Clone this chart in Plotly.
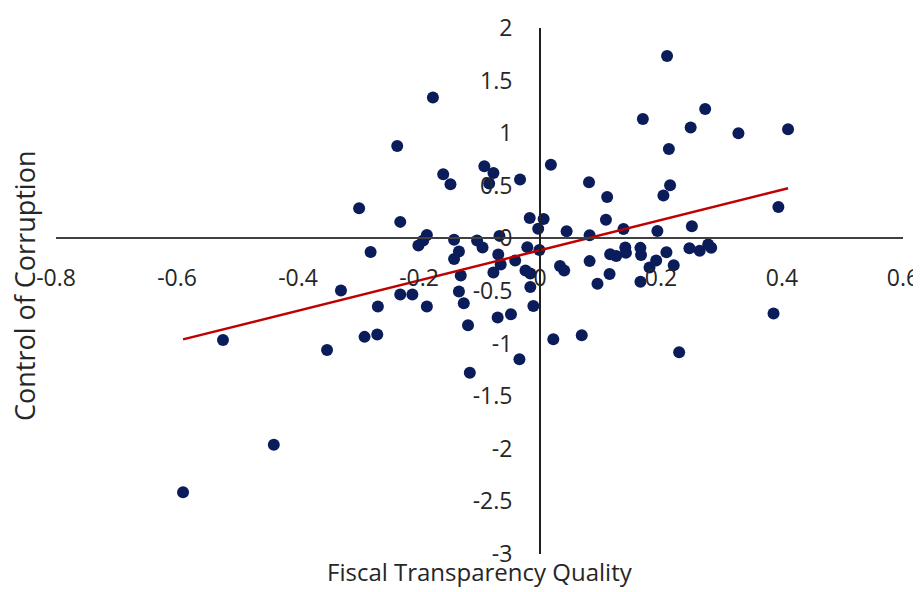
import plotly.graph_objects as go

# Fiscal Transparency Quality (x) vs Control of Corruption (y)
fiscal_transparency = [
    -0.177, -0.236, -0.160, -0.148, -0.092, -0.077, -0.084, -0.033, 0.018, 0.081,
    -0.299, -0.231, -0.017, 0.006, -0.003, 0.044, 0.082, -0.280, -0.187, -0.193,
    -0.201, -0.142, -0.134, -0.142, -0.104, -0.095, -0.067, -0.069, -0.065, -0.041,
    -0.021, -0.001, -0.024, -0.016, 0.033, 0.040, 0.082, 0.095, -0.131, -0.077,
    -0.016, -0.329, -0.231, -0.211, -0.134, -0.268, -0.187, -0.126, -0.011, -0.070,
    -0.048, -0.119, -0.290, -0.269, -0.352, -0.034, -0.116, 0.022, 0.069, -0.524,
    -0.440, -0.590, 0.386, 0.230, 0.210, 0.273, 0.170, 0.249, 0.328, 0.410,
    0.213, 0.215, 0.204, 0.394, 0.111, 0.109, 0.138, 0.194, 0.251, 0.247,
    0.264, 0.278, 0.283, 0.209, 0.116, 0.126, 0.141, 0.142, 0.166, 0.167,
    0.192, 0.181, 0.221, 0.115, 0.166,
]
control_of_corruption = [
    1.340, 0.879, 0.610, 0.514, 0.686, 0.622, 0.521, 0.559, 0.700, 0.533,
    0.286, 0.157, 0.195, 0.184, 0.092, 0.067, 0.029, -0.130, 0.033, -0.019,
    -0.067, -0.012, -0.124, -0.195, -0.019, -0.086, 0.024, -0.152, -0.248, -0.210,
    -0.083, -0.110, -0.305, -0.333, -0.262, -0.305, -0.216, -0.431, -0.352, -0.324,
    -0.462, -0.495, -0.533, -0.533, -0.505, -0.648, -0.648, -0.616, -0.643, -0.752,
    -0.721, -0.826, -0.936, -0.914, -1.060, -1.148, -1.276, -0.959, -0.921, -0.965,
    -1.962, -2.412, -0.714, -1.083, 1.733, 1.229, 1.136, 1.054, 1.000, 1.038,
    0.850, 0.505, 0.407, 0.298, 0.393, 0.178, 0.090, 0.070, 0.116, -0.093,
    -0.117, -0.057, -0.089, -0.132, -0.150, -0.167, -0.086, -0.136, -0.090, -0.157,
    -0.210, -0.276, -0.255, -0.338, -0.411,
]

# Linear trend line end points
trend_x = [-0.59, 0.41]
trend_y = [-0.96, 0.476]

x_ticks = [-0.8, -0.6, -0.4, -0.2, 0, 0.2, 0.4, 0.6]
x_tick_labels = ["-0.8", "-0.6", "-0.4", "-0.2", "0", "0.2", "0.4", "0.6"]
y_ticks = [-3, -2.5, -2, -1.5, -1, -0.5, 0, 0.5, 1, 1.5, 2]
y_tick_labels = ["-3", "-2.5", "-2", "-1.5", "-1", "-0.5", "0", "0.5", "1", "1.5", "2"]

x_title = "Fiscal Transparency Quality"
y_title = "Control of Corruption"

FONT = "Open Sans"
TXT = "#262626"

fig = go.Figure()
fig.add_trace(go.Scatter(
    x=fiscal_transparency, y=control_of_corruption, mode="markers",
    marker=dict(size=12, color="#0b1c5a", line=dict(width=0)),
    showlegend=False,
))
fig.add_trace(go.Scatter(
    x=trend_x, y=trend_y, mode="lines",
    line=dict(color="#c00000", width=2.5),
    showlegend=False,
))

fig.update_layout(
    width=913, height=584,
    margin=dict(l=48, r=18, t=20, b=38, autoexpand=False),
    paper_bgcolor="white", plot_bgcolor="white",
    font=dict(family=FONT, color=TXT),
    xaxis=dict(
        range=[-0.8, 0.6], anchor="free", position=0.6, automargin=False,
        showline=True, linecolor="#404040", linewidth=2,
        showgrid=False, zeroline=False, ticks="",
        tickvals=x_ticks, ticktext=x_tick_labels,
        tickfont=dict(size=23, family=FONT, color=TXT),
        ticklabelstandoff=19,
    ),
    yaxis=dict(
        range=[-3, 2], anchor="free", position=0.8 / 1.4, automargin=False,
        showline=True, linecolor="#202020", linewidth=2,
        showgrid=False, zeroline=False, ticks="",
        tickvals=y_ticks, ticktext=y_tick_labels,
        tickfont=dict(size=23, family=FONT, color=TXT),
        ticklabelstandoff=22,
    ),
    annotations=[
        dict(text=x_title, xref="paper", yref="paper", x=0.5, y=-0.034,
             xanchor="center", yanchor="middle", showarrow=False,
             font=dict(size=24, family=FONT, color=TXT)),
        dict(text=y_title, xref="paper", yref="paper", x=-0.038, y=0.511,
             xanchor="center", yanchor="middle", showarrow=False, textangle=-90,
             font=dict(size=27, family=FONT, color=TXT)),
    ],
)

fig.write_html("out.html")
